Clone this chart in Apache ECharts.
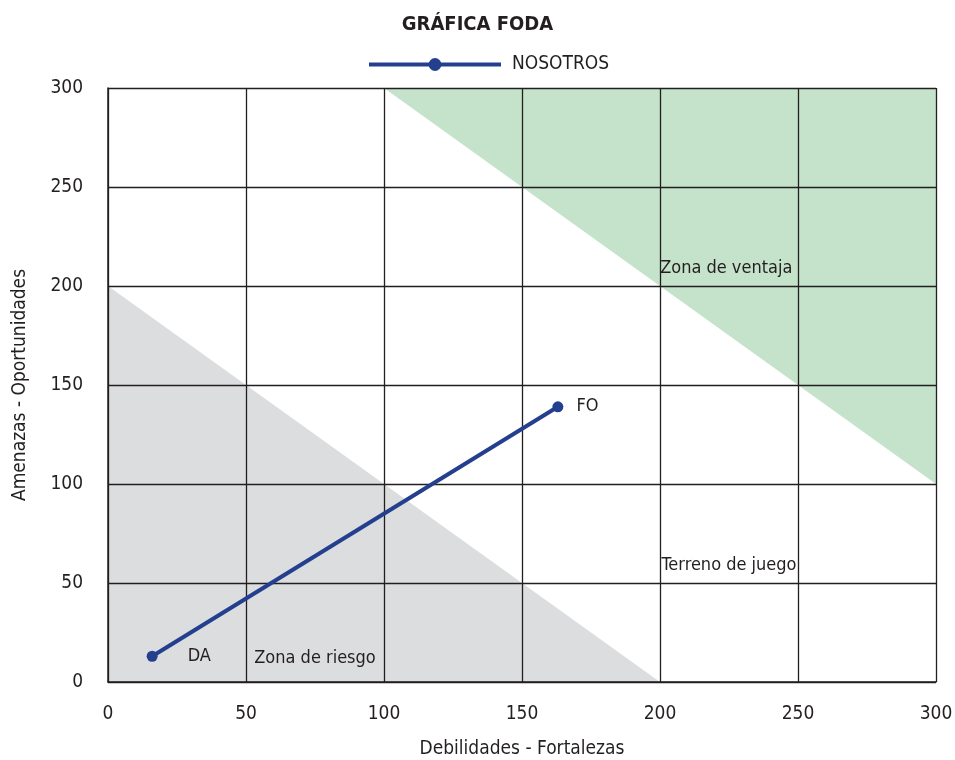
<!DOCTYPE html>
<html><head><meta charset="utf-8">
<script src="https://cdn.jsdelivr.net/npm/echarts@6/dist/echarts.min.js"></script>
<style>html,body{margin:0;padding:0;background:#fff}#c{width:955px;height:760px}</style>
</head><body><div id="c"></div>
<script>
const xTicks = [0, 50, 100, 150, 200, 250, 300];
const yTicks = [0, 50, 100, 150, 200, 250, 300];
const seriesName = 'NOSOTROS';
const linePoints = [[16, 13], [163, 139]];
const pointLabels = ['DA', 'FO'];
const riskZone = [[0, 0], [0, 200], [200, 0]];
const advantageZone = [[100, 300], [300, 300], [300, 100]];
const zoneTexts = [
  {name: 'Zona de ventaja', x: 224, y: 209},
  {name: 'Terreno de juego', x: 225, y: 59},
  {name: 'Zona de riesgo', x: 75, y: 12}
];
const FONT = "'Liberation Sans Narrow','DejaVu Sans Condensed',sans-serif";
const TXT = '#231f20';
const labelGaps = [30, 13];

function polySeries(pts, color) {
  return {
    type: 'custom', silent: true, z: 1,
    data: [0],
    renderItem: function (params, api) {
      return {type: 'polygon', shape: {points: pts.map(p => api.coord(p))}, style: {fill: color}};
    }
  };
}

const chart = echarts.init(document.getElementById('c'));
chart.setOption({
  animation: false,
  title: {text: 'GRÁFICA FODA', left: 'center', top: 10,
    textStyle: {fontFamily: FONT, fontSize: 20, fontWeight: 'bold', color: TXT}},
  legend: {data: [seriesName], top: 50, left: 362, itemWidth: 132, itemHeight: 16, itemGap: 10,
    lineStyle: {width: 4},
    textStyle: {fontFamily: FONT, fontSize: 19, color: TXT, padding: [0, 0, 0, 6]}},
  grid: {left: 108, right: 19, top: 88, bottom: 78, outerBoundsMode: 'none', containLabel: false},
  xAxis: {type: 'value', min: xTicks[0], max: xTicks[xTicks.length - 1], interval: 50, z: 10,
    name: 'Debilidades - Fortalezas', nameLocation: 'middle', nameGap: 58,
    nameTextStyle: {fontFamily: FONT, fontSize: 19, color: TXT},
    axisLine: {lineStyle: {color: TXT, width: 1.5}}, axisTick: {show: false},
    axisLabel: {fontFamily: FONT, fontSize: 19, color: TXT, margin: 23},
    splitLine: {show: true, lineStyle: {color: TXT, width: 1.3}}},
  yAxis: {type: 'value', min: yTicks[0], max: yTicks[yTicks.length - 1], interval: 50, z: 10,
    name: 'Amenazas - Oportunidades', nameLocation: 'middle', nameGap: 78,
    nameTextStyle: {fontFamily: FONT, fontSize: 19, color: TXT},
    axisLine: {show: true, lineStyle: {color: TXT, width: 1.5}}, axisTick: {show: false},
    axisLabel: {fontFamily: FONT, fontSize: 19, color: TXT, margin: 25},
    splitLine: {show: true, lineStyle: {color: TXT, width: 1.3}}},
  series: [
    Object.assign(polySeries(riskZone, '#dcdddf'), {name: 'risk'}),
    Object.assign(polySeries(advantageZone, '#c4e3ca'), {name: 'adv'}),
    {
      name: seriesName, type: 'line', z: 20,
      data: linePoints.map((p, i) => ({value: p, label: {show: true, formatter: pointLabels[i], distance: labelGaps[i]}})),
      symbol: 'circle', symbolSize: 11,
      lineStyle: {color: '#253f8f', width: 4}, itemStyle: {color: '#253f8f'},
      label: {position: 'right', fontFamily: FONT, fontSize: 18, color: TXT}
    },
    {
      type: 'custom', silent: true, z: 21,
      data: zoneTexts.map(t => [t.x, t.y, t.name]),
      renderItem: function (params, api) {
        const c = api.coord([api.value(0), api.value(1)]);
        return {type: 'text', x: c[0], y: c[1],
          style: {text: zoneTexts[params.dataIndex].name, fill: TXT, font: '18px ' + FONT, align: 'center', verticalAlign: 'middle'}};
      }
    }
  ]
});
</script></body></html>
